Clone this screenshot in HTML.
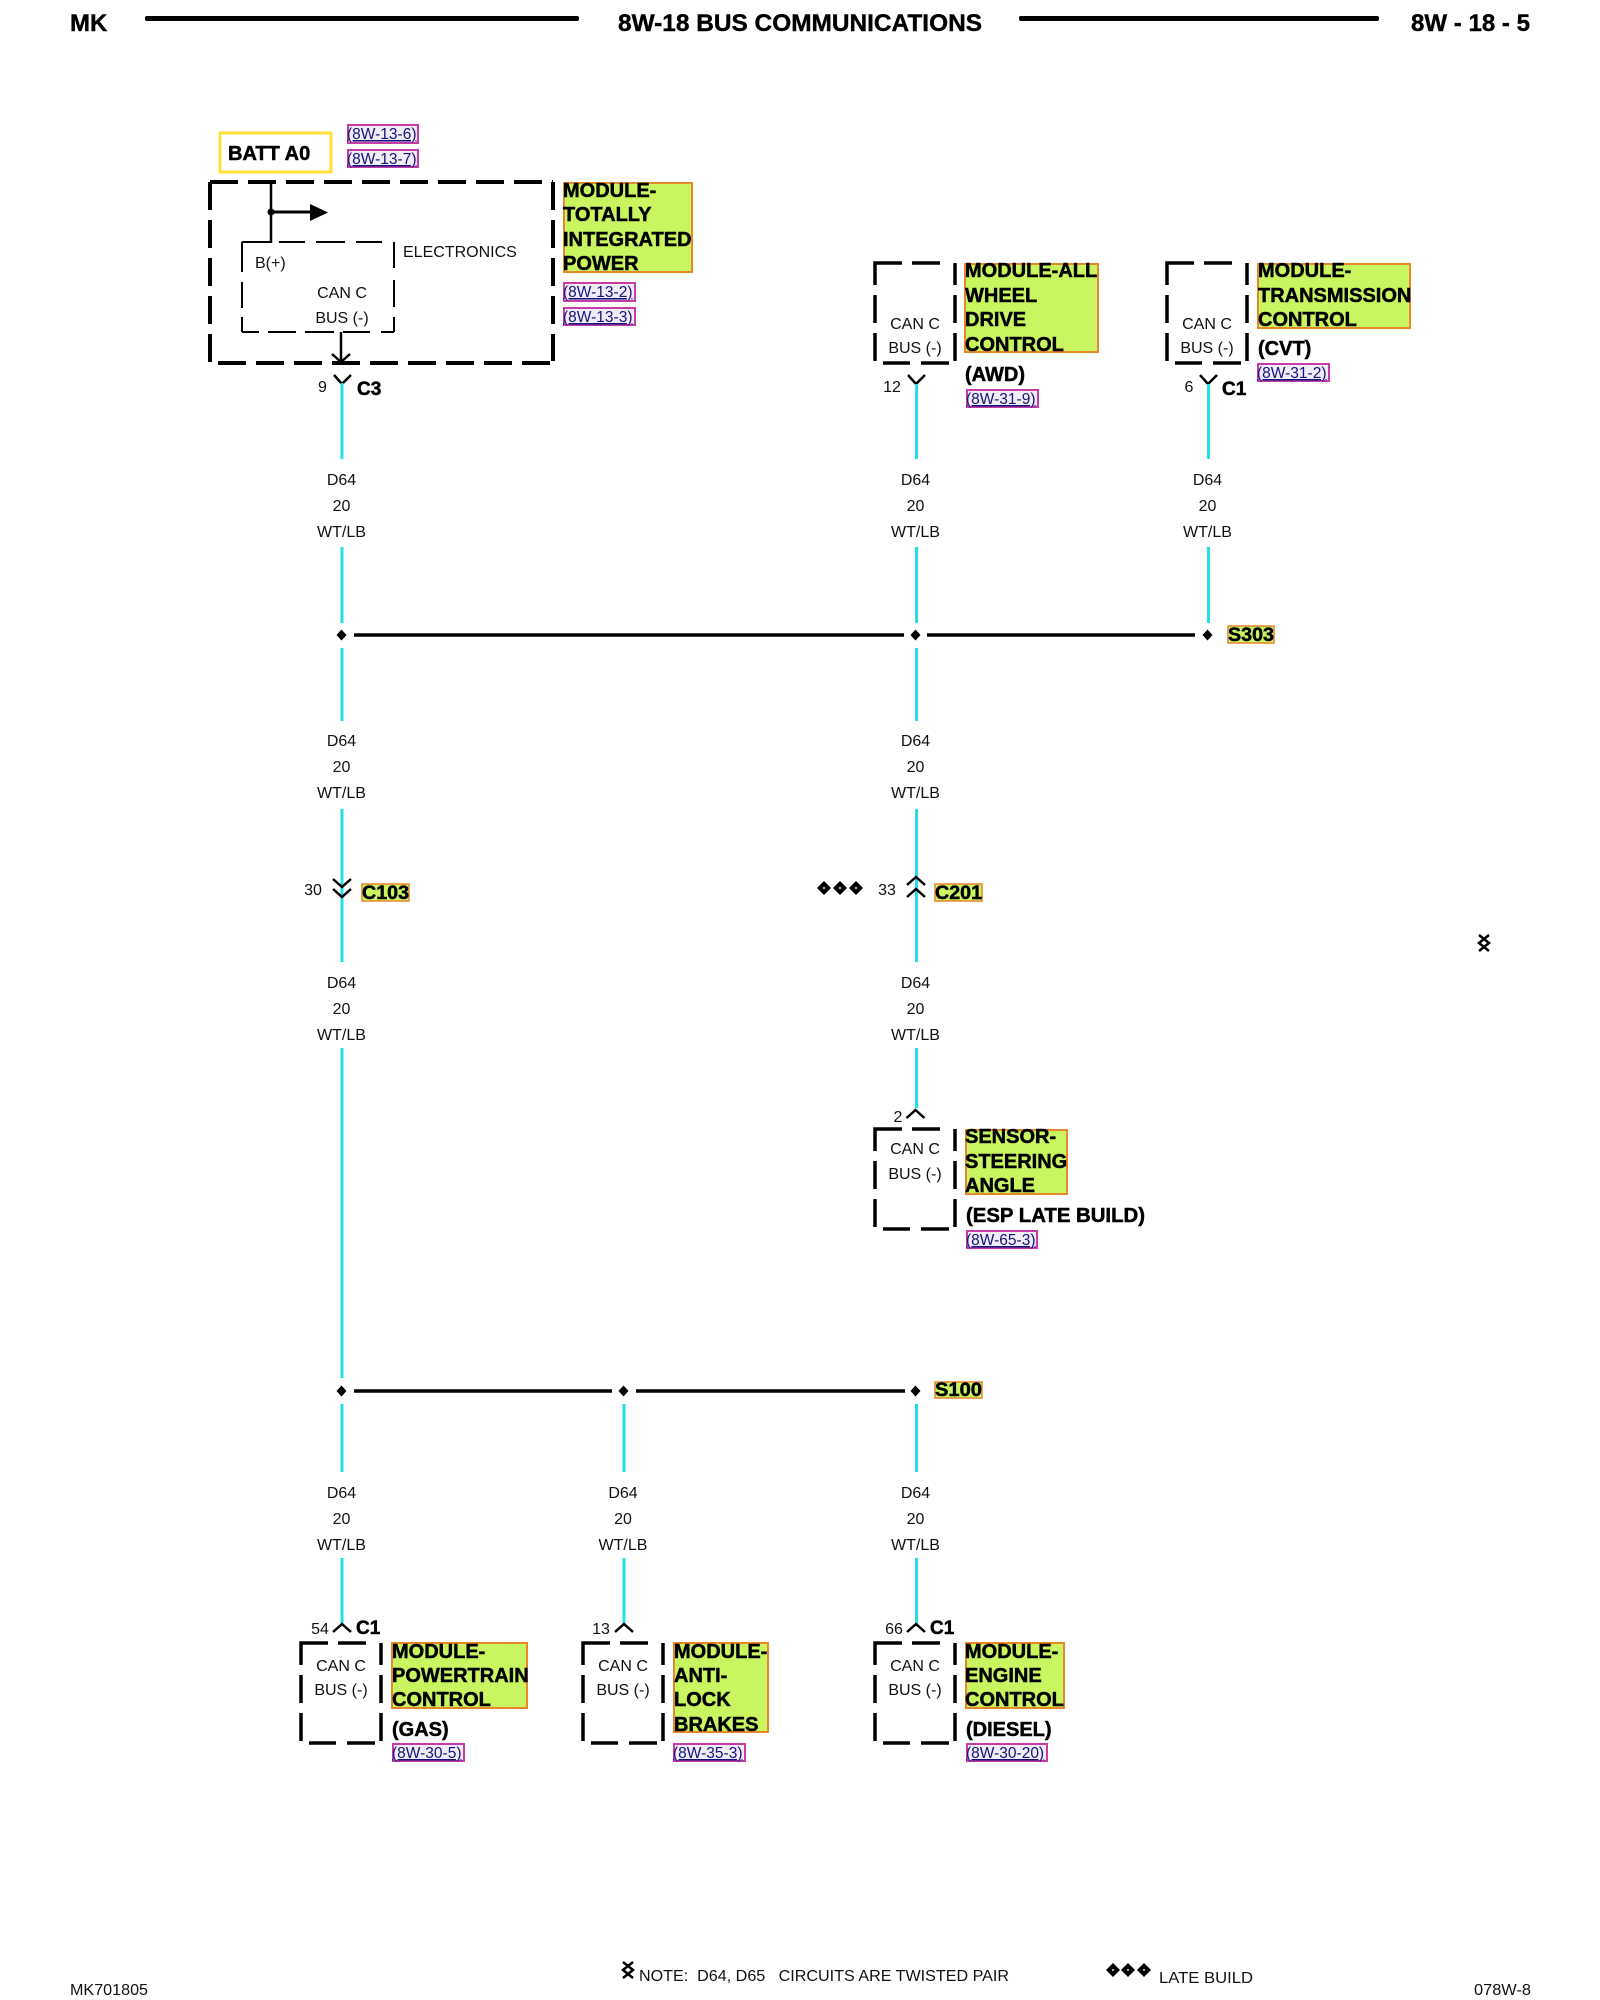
<!DOCTYPE html>
<html>
<head>
<meta charset="utf-8">
<title>8W-18 Bus Communications</title>
<style>
html,body{margin:0;padding:0;background:#fff;}
svg{display:block;}
text{font-family:"Liberation Sans",sans-serif;fill:#000;}
.b{font-weight:bold;stroke:#000;stroke-width:.5px;}
.m{font-weight:bold;font-size:20px;stroke:#000;stroke-width:.5px;}
.h{font-weight:bold;font-size:24px;stroke:#000;stroke-width:.4px;}
.t{font-size:16px;fill:#111;}
.c{text-anchor:middle;}
.r{font-size:15.5px;fill:#14147c;text-decoration:underline;}
.w{stroke:#22e0e6;stroke-width:3;fill:none;}
.k{stroke:#000;fill:none;}
.lab{fill:#c8f560;stroke:#e8862a;stroke-width:2;}
.ref{fill:#f2ecf8;stroke:#c83ca8;stroke-width:2;}
</style>
</head>
<body>
<svg width="1600" height="2000" viewBox="0 0 1600 2000" xmlns="http://www.w3.org/2000/svg">
<defs>
<g id="bx"><path d="M0 22V0H27M37 0H65M0 32V60M0 70V98M80 0V22M80 32V60M80 70V98M8 100H35M46 100H74" fill="none" stroke="#000" stroke-width="3.500"/></g>
<g id="ch"><path d="M-9 8L0 0L9 8" fill="none" stroke="#000" stroke-width="2.500"/></g>
<g id="dm"><polygon points="0,-5.500 5,0 0,5.500 -5,0" fill="#000"/></g>
<g id="dl"><polygon points="0,-7 7,0 0,7 -7,0" fill="#000"/><rect x="-1" y="-0.700" width="2" height="1.400" fill="#fff"/></g>
<g id="tw"><path d="M-5 0L5 8L-5 16M5 0L-5 8L5 16" fill="none" stroke="#000" stroke-width="2.500"/></g>
</defs>

<!-- header -->
<text class="h" x="70" y="31">MK</text>
<rect x="145" y="16" width="434" height="5" rx="2" fill="#000"/>
<text class="h" x="618" y="31" textLength="364" lengthAdjust="spacingAndGlyphs">8W-18 BUS COMMUNICATIONS</text>
<rect x="1019" y="16" width="360" height="5" rx="2" fill="#000"/>
<text class="h" x="1411" y="31" textLength="119" lengthAdjust="spacingAndGlyphs">8W - 18 - 5</text>

<!-- BATT -->
<rect x="220" y="133" width="111" height="39" fill="#fff" stroke="#ffdf3a" stroke-width="3"/>
<text class="b" x="228" y="160" font-size="20">BATT A0</text>
<rect class="ref" x="348" y="125" width="70" height="18"/>
<text class="r" x="347" y="139">(8W-13-6)</text>
<rect class="ref" x="348" y="150" width="70" height="17"/>
<text class="r" x="347" y="164">(8W-13-7)</text>

<!-- big dashed box -->
<g fill="none" stroke="#000" stroke-width="4" stroke-dasharray="28 10">
<path d="M210 182H553"/>
<path d="M218 363H552"/>
<path d="M210 182V363"/>
<path d="M553 182V361"/>
</g>
<path d="M242 242H270M279 242H305M316 242H345M356 242H382M242 242V272M242 282V308M242 317V332M394 242V268M394 280V307M394 317V332M242 332H259M268 332H296M305 332H334M343 332H370M381 332H394" fill="none" stroke="#000" stroke-width="2"/>
<path d="M271 182V243" stroke="#000" stroke-width="2.500" fill="none"/>
<circle cx="271" cy="212" r="3.500" fill="#000"/>
<path d="M271 212H312" stroke="#000" stroke-width="3" fill="none"/>
<polygon points="310,204 328,212.500 310,221" fill="#000"/>
<path d="M341 332V362M332 354L341 362L350 354" stroke="#000" stroke-width="2.500" fill="none"/>
<text class="t" x="403" y="257">ELECTRONICS</text>
<text class="t" x="255" y="268">B(+)</text>
<text class="t c" x="342" y="298">CAN C</text>
<text class="t c" x="342" y="323">BUS (-)</text>

<rect class="lab" x="564" y="183" width="128" height="89"/>
<text class="m" x="563" y="197">MODULE-</text>
<text class="m" x="563" y="221">TOTALLY</text>
<text class="m" x="563" y="246">INTEGRATED</text>
<text class="m" x="563" y="270">POWER</text>
<rect class="ref" x="564" y="283" width="71" height="18"/>
<text class="r" x="563" y="297">(8W-13-2)</text>
<rect class="ref" x="564" y="308" width="71" height="17"/>
<text class="r" x="563" y="322">(8W-13-3)</text>

<!-- top connector col 1 -->
<path d="M334 375L342 384L351 375" class="k" stroke-width="2.500"/>
<text class="t" x="318" y="392" font-size="15">9</text>
<text class="b" x="357" y="395" font-size="19">C3</text>

<!-- AWD -->
<use href="#bx" x="875" y="263"/>
<text class="t c" x="915" y="329">CAN C</text>
<text class="t c" x="915" y="353">BUS (-)</text>
<rect class="lab" x="965" y="264" width="133" height="88"/>
<text class="m" x="965" y="277">MODULE-ALL</text>
<text class="m" x="965" y="302">WHEEL</text>
<text class="m" x="965" y="326">DRIVE</text>
<text class="m" x="965" y="351">CONTROL</text>
<text class="m" x="965" y="381">(AWD)</text>
<rect class="ref" x="967" y="390" width="71" height="17"/>
<text class="r" x="966" y="404">(8W-31-9)</text>
<path d="M908 375L916 384L925 375" class="k" stroke-width="2.500"/>
<text class="t c" x="892" y="392">12</text>

<!-- CVT -->
<use href="#bx" x="1167" y="263"/>
<text class="t c" x="1207" y="329">CAN C</text>
<text class="t c" x="1207" y="353">BUS (-)</text>
<rect class="lab" x="1258" y="264" width="152" height="64"/>
<text class="m" x="1258" y="277">MODULE-</text>
<text class="m" x="1258" y="302">TRANSMISSION</text>
<text class="m" x="1258" y="326">CONTROL</text>
<text class="m" x="1258" y="355">(CVT)</text>
<rect class="ref" x="1258" y="364" width="71" height="17"/>
<text class="r" x="1257" y="378">(8W-31-2)</text>
<path d="M1200 375L1208 384L1217 375" class="k" stroke-width="2.500"/>
<text class="t c" x="1189" y="392">6</text>
<text class="b" x="1222" y="395" font-size="19">C1</text>

<!-- wires -->
<path class="w" d="M342 383V459M342 547V623M342 648V721M342 809V962M342 1048V1378M342 1404V1472M342 1558V1624"/>
<path class="w" d="M916.500 384V459M916.500 547V623M916.500 648V721M916.500 809V962M916.500 1048V1108M916.500 1404V1472M916.500 1558V1624"/>
<path class="w" d="M1208.500 384V459M1208.500 547V623"/>
<path class="w" d="M624 1404V1472M624 1558V1624"/>

<!-- wire labels -->
<g>
<text class="t c" x="341.500" y="485">D64</text><text class="t c" x="341.500" y="511">20</text><text class="t c" x="341.500" y="537">WT/LB</text>
<text class="t c" x="915.500" y="485">D64</text><text class="t c" x="915.500" y="511">20</text><text class="t c" x="915.500" y="537">WT/LB</text>
<text class="t c" x="1207.500" y="485">D64</text><text class="t c" x="1207.500" y="511">20</text><text class="t c" x="1207.500" y="537">WT/LB</text>
<text class="t c" x="341.500" y="746">D64</text><text class="t c" x="341.500" y="772">20</text><text class="t c" x="341.500" y="798">WT/LB</text>
<text class="t c" x="915.500" y="746">D64</text><text class="t c" x="915.500" y="772">20</text><text class="t c" x="915.500" y="798">WT/LB</text>
<text class="t c" x="341.500" y="988">D64</text><text class="t c" x="341.500" y="1014">20</text><text class="t c" x="341.500" y="1040">WT/LB</text>
<text class="t c" x="915.500" y="988">D64</text><text class="t c" x="915.500" y="1014">20</text><text class="t c" x="915.500" y="1040">WT/LB</text>
<text class="t c" x="341.500" y="1498">D64</text><text class="t c" x="341.500" y="1524">20</text><text class="t c" x="341.500" y="1550">WT/LB</text>
<text class="t c" x="623" y="1498">D64</text><text class="t c" x="623" y="1524">20</text><text class="t c" x="623" y="1550">WT/LB</text>
<text class="t c" x="915.500" y="1498">D64</text><text class="t c" x="915.500" y="1524">20</text><text class="t c" x="915.500" y="1550">WT/LB</text>
</g>

<!-- bus S303 -->
<path d="M354 635H904M927 635H1195" stroke="#000" stroke-width="3.500" fill="none"/>
<use href="#dm" x="341.500" y="635"/><use href="#dm" x="915.500" y="635"/><use href="#dm" x="1207.500" y="635"/>
<rect x="1228" y="626" width="46" height="17" fill="#c8f560" stroke="#e8862a" stroke-width="1.500"/>
<text class="b" x="1228" y="641" font-size="19" textLength="46" lengthAdjust="spacingAndGlyphs">S303</text>

<!-- C103 / C201 -->
<path d="M333 879L342 887L351 879M333 889L342 897L351 889" class="k" stroke-width="2.500"/>
<text class="t c" x="313" y="895">30</text>
<rect x="362" y="884" width="47" height="17" fill="#c8f560" stroke="#e8862a" stroke-width="1.500"/>
<text class="b" x="362" y="899" font-size="19" textLength="47" lengthAdjust="spacingAndGlyphs">C103</text>
<use href="#dl" x="824" y="888"/><use href="#dl" x="840" y="888"/><use href="#dl" x="856" y="888"/>
<text class="t c" x="887" y="895">33</text>
<path d="M907 885L916 877L925 885M907 897L916 889L925 897" class="k" stroke-width="2.500"/>
<rect x="935" y="884" width="47" height="17" fill="#c8f560" stroke="#e8862a" stroke-width="1.500"/>
<text class="b" x="935" y="899" font-size="19" textLength="47" lengthAdjust="spacingAndGlyphs">C201</text>

<use href="#tw" x="1484" y="935"/>

<!-- Sensor -->
<use href="#ch" x="915.500" y="1110"/>
<text class="t c" x="898" y="1122">2</text>
<use href="#bx" x="875" y="1129"/>
<text class="t c" x="915" y="1154">CAN C</text>
<text class="t c" x="915" y="1179">BUS (-)</text>
<rect class="lab" x="966" y="1130" width="101" height="64"/>
<text class="m" x="965" y="1143">SENSOR-</text>
<text class="m" x="965" y="1168">STEERING</text>
<text class="m" x="965" y="1192">ANGLE</text>
<text class="m" x="966" y="1222" textLength="179" lengthAdjust="spacingAndGlyphs">(ESP LATE BUILD)</text>
<rect class="ref" x="967" y="1231" width="70" height="17"/>
<text class="r" x="966" y="1245">(8W-65-3)</text>

<!-- bus S100 -->
<path d="M354 1391H612M636 1391H905" stroke="#000" stroke-width="3.500" fill="none"/>
<use href="#dm" x="341.500" y="1391"/><use href="#dm" x="623.500" y="1391"/><use href="#dm" x="915.500" y="1391"/>
<rect x="935" y="1382" width="47" height="16" fill="#c8f560" stroke="#e8862a" stroke-width="1.500"/>
<text class="b" x="935" y="1396" font-size="19" textLength="47" lengthAdjust="spacingAndGlyphs">S100</text>

<!-- bottom modules -->
<use href="#ch" x="342" y="1624"/>
<text class="t c" x="320" y="1634">54</text>
<text class="b" x="356" y="1634" font-size="19">C1</text>
<use href="#bx" x="301" y="1643"/>
<text class="t c" x="341" y="1671">CAN C</text>
<text class="t c" x="341" y="1695">BUS (-)</text>
<rect class="lab" x="392" y="1643" width="135" height="65"/>
<text class="m" x="392" y="1658">MODULE-</text>
<text class="m" x="392" y="1682">POWERTRAIN</text>
<text class="m" x="392" y="1706">CONTROL</text>
<text class="m" x="392" y="1736">(GAS)</text>
<rect class="ref" x="393" y="1744" width="71" height="17"/>
<text class="r" x="392" y="1758">(8W-30-5)</text>

<use href="#ch" x="624" y="1624"/>
<text class="t c" x="601" y="1634">13</text>
<use href="#bx" x="583" y="1643"/>
<text class="t c" x="623" y="1671">CAN C</text>
<text class="t c" x="623" y="1695">BUS (-)</text>
<rect class="lab" x="674" y="1643" width="94" height="89"/>
<text class="m" x="674" y="1658">MODULE-</text>
<text class="m" x="674" y="1682">ANTI-</text>
<text class="m" x="674" y="1706">LOCK</text>
<text class="m" x="674" y="1731">BRAKES</text>
<rect class="ref" x="674" y="1744" width="71" height="17"/>
<text class="r" x="673" y="1758">(8W-35-3)</text>

<use href="#ch" x="916" y="1624"/>
<text class="t c" x="894" y="1634">66</text>
<text class="b" x="930" y="1634" font-size="19">C1</text>
<use href="#bx" x="875" y="1643"/>
<text class="t c" x="915" y="1671">CAN C</text>
<text class="t c" x="915" y="1695">BUS (-)</text>
<rect class="lab" x="966" y="1643" width="98" height="65"/>
<text class="m" x="965" y="1658">MODULE-</text>
<text class="m" x="965" y="1682">ENGINE</text>
<text class="m" x="965" y="1706">CONTROL</text>
<text class="m" x="966" y="1736">(DIESEL)</text>
<rect class="ref" x="967" y="1744" width="80" height="17"/>
<text class="r" x="966" y="1758">(8W-30-20)</text>

<!-- footer -->
<text class="t" x="70" y="1995" textLength="78" lengthAdjust="spacingAndGlyphs">MK701805</text>
<use href="#tw" x="628" y="1962"/>
<text class="t" x="639" y="1981" textLength="370" lengthAdjust="spacingAndGlyphs" xml:space="preserve">NOTE:  D64, D65   CIRCUITS ARE TWISTED PAIR</text>
<use href="#dl" x="1113" y="1970"/><use href="#dl" x="1128" y="1970"/><use href="#dl" x="1144" y="1970"/>
<text class="t" x="1159" y="1983" textLength="94" lengthAdjust="spacingAndGlyphs">LATE BUILD</text>
<text class="t" x="1474" y="1995" textLength="57" lengthAdjust="spacingAndGlyphs">078W-8</text>
</svg>
</body>
</html>
